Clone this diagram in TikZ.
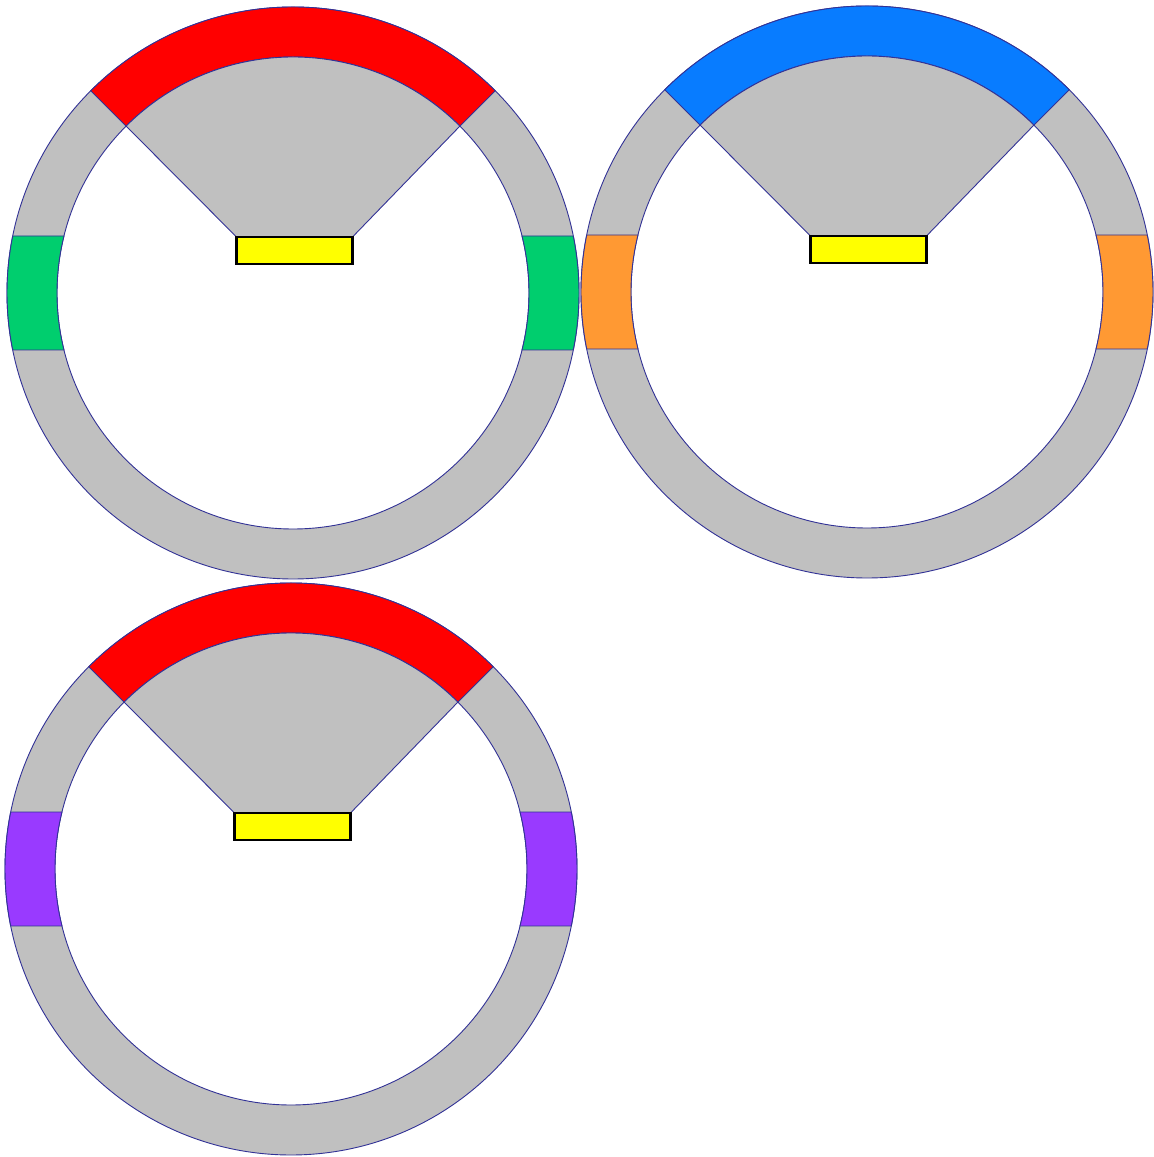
\documentclass[tikz,border=0pt]{standalone}
\usetikzlibrary{calc}
\definecolor{ringgray}{RGB}{192,192,192}
\definecolor{edgeblue}{RGB}{50,50,150}
\definecolor{cred}{RGB}{255,0,0}
\definecolor{cgreen}{RGB}{0,206,110}
\definecolor{cblue}{RGB}{8,124,255}
\definecolor{corange}{RGB}{255,153,51}
\definecolor{cpurple}{RGB}{153,58,255}
\definecolor{cyellow}{RGB}{255,255,0}
\tikzset{
  edge/.style={draw=edgeblue,line width=0.9pt},
  annulus/.style={edge,fill=ringgray,even odd rule},
  yrect/.style={draw=black,line width=2.2pt,fill=cyellow,minimum width=116pt,minimum height=27pt,inner sep=0pt,outer sep=0pt},
}
\newcommand{\ringdraw}[5]{%
  % #1 cx, #2 cy, #3 top colour, #4 side colour, #5 rect name
  \begin{scope}[shift={(#1,#2)}]
    \pgfmathsetmacro{\ao}{asin(57/286)}
    \pgfmathsetmacro{\ai}{asin(57/236)}
    \path[annulus] (0,0) circle[radius=286] (0,0) circle[radius=236];
    \path[edge,fill=#3] (45:286) arc[start angle=45,end angle=135,radius=286]
      -- (135:236) arc[start angle=135,end angle=45,radius=236] -- cycle;
    \path[edge,fill=#4] (180-\ao:286) arc[start angle=180-\ao,end angle=180+\ao,radius=286]
      -- (180+\ai:236) arc[start angle=180+\ai,end angle=180-\ai,radius=236] -- cycle;
    \path[edge,fill=#4] (-\ao:286) arc[start angle=-\ao,end angle=\ao,radius=286]
      -- (\ai:236) arc[start angle=\ai,end angle=-\ai,radius=236] -- cycle;
    \node[yrect] (#5) at (1.5,42.5) {};
    \path[edge,fill=ringgray] (#5.north west) -- (135:236)
      arc[start angle=135,end angle=45,radius=236] -- (#5.north east) -- cycle;
    \node[yrect] at (#5.center) {};
  \end{scope}%
}
\begin{document}
\begin{tikzpicture}[x=1pt,y=1pt]
  \useasboundingbox (0,0) rectangle (1154,1157);
  \ringdraw{293}{864}{cred}{cgreen}{rectA}
  \ringdraw{867}{865}{cblue}{corange}{rectB}
  \ringdraw{291}{288}{cred}{cpurple}{rectC}
\end{tikzpicture}
\end{document}
